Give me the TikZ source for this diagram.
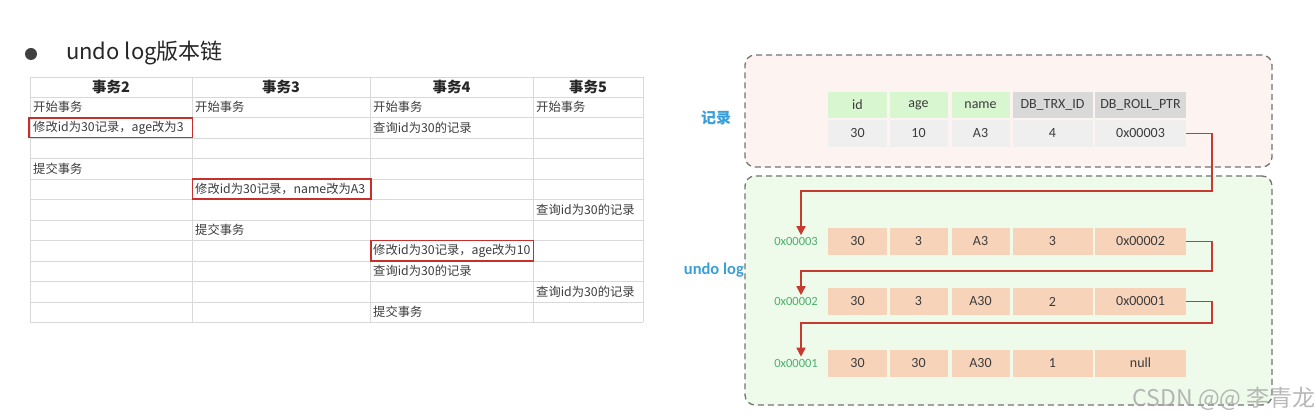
\documentclass[tikz,border=0pt]{standalone}
\usepackage{fontspec}
\setmainfont{Carlito}
\newfontfamily\cjkfont{Noto Sans CJK SC}
\usetikzlibrary{arrows.meta,positioning,calc}

\definecolor{gridgray}{HTML}{D9D9D9}
\definecolor{celltext}{HTML}{3C3C3C}
\definecolor{markred}{HTML}{C62F2B}
\definecolor{chainred}{HTML}{C63A30}
\definecolor{labelblue}{HTML}{3A9FD9}
\definecolor{addrgreen}{HTML}{4DAF6C}
\definecolor{recfill}{HTML}{FDF3F1}
\definecolor{logfill}{HTML}{EEFAEA}
\definecolor{headgreen}{HTML}{D8F6CF}
\definecolor{headgray}{HTML}{D9D9D9}
\definecolor{rowgray}{HTML}{EFEFEF}
\definecolor{peach}{HTML}{F7D3B9}

\begin{document}
\begin{tikzpicture}[
  x=1pt, y=-1pt,
  cell/.style={anchor=west, inner sep=0pt, text=celltext, font=\cjkfont\fontsize{12.3}{14}\selectfont},
  head/.style={inner sep=0pt, text=black!85, font=\cjkfont\bfseries\fontsize{14.5}{16}\selectfont},
  redmark/.style={draw=markred, line width=1.5pt},
  area/.style={draw=black!55, dashed, dash pattern=on 6pt off 4pt, line width=1.3pt, rounded corners=10pt},
  field/.style={inner sep=0pt, minimum height=26pt, text=celltext, font=\fontsize{14}{16}\selectfont},
  addr/.style={anchor=east, inner sep=2pt, text=addrgreen, font=\fontsize{12.5}{14}\selectfont},
  side/.style={text=labelblue, inner sep=0pt, font=\bfseries\fontsize{16.5}{18}\selectfont},
  chain/.style={-{Triangle[length=9pt,width=9pt]}, draw=chainred, line width=1.6pt}
]
\useasboundingbox (0,0) rectangle (1316,419);

% title
\node[circle, fill=black!75, minimum size=12pt, inner sep=0pt] (bullet) at (31,54) {};
\node[anchor=west, inner sep=0pt, text=black!85, font=\cjkfont\fontsize{22}{24}\selectfont] (title) at (66,53) {undo log版本链};

% transaction table
\foreach \yy in {77,97,117.5,138,158.5,179,199.5,220,240.5,261,281.5,302,322.5}
  \draw[gridgray, line width=0.9pt] (30,\yy) -- (643,\yy);
\foreach \xx in {30,192,370,533,643}
  \draw[gridgray, line width=0.9pt] (\xx,77) -- (\xx,322.5);

\node[head] (h2) at (111,87) {事务2};
\node[head] (h3) at (281,87) {事务3};
\node[head] (h4) at (451.5,87) {事务4};
\node[head] (h5) at (588,87) {事务5};

\node[cell] (t2begin) at (33,107.25) {开始事务};
\node[cell] (t3begin) at (195,107.25) {开始事务};
\node[cell] (t4begin) at (373,107.25) {开始事务};
\node[cell] (t5begin) at (536,107.25) {开始事务};
\node[cell] (t2upd) at (33,127.75) {修改id为30记录，age改为3};
\node[cell] (t4sel1) at (373,127.75) {查询id为30的记录};
\node[cell] (t2end) at (33,168.75) {提交事务};
\node[cell] (t3upd) at (195,189.25) {修改id为30记录，name改为A3};
\node[cell] (t5sel1) at (536,209.75) {查询id为30的记录};
\node[cell] (t3end) at (195,230.25) {提交事务};
\node[cell] (t4upd) at (373,250.75) {修改id为30记录，age改为10};
\node[cell] (t4sel2) at (373,271.25) {查询id为30的记录};
\node[cell] (t5sel2) at (536,291.75) {查询id为30的记录};
\node[cell] (t4end) at (373,312.25) {提交事务};

\draw[redmark] (29,118) rectangle (192.5,137.5);
\draw[redmark] (192.5,179) rectangle (371,199);
\draw[redmark] (371,240.5) rectangle (533.5,261);

% record and undo log areas
\node[area, fill=recfill, minimum width=527pt, minimum height=112pt] (rec) at (1008.5,111) {};
\node[area, fill=logfill, minimum width=527pt, minimum height=229pt] (log) at (1008.5,290.5) {};
\node[side, font=\cjkfont\bfseries\fontsize{15}{17}\selectfont] (reclabel) at (716,118) {记录};
\node[side, anchor=east] (loglabel) at (744,270) {undo log};

% current record
\node[field, fill=headgreen, minimum width=59pt] (hid) at (857.5,105) {id};
\node[field, fill=headgreen, minimum width=58pt] (hage) at (918.5,105) {age};
\node[field, fill=headgreen, minimum width=58pt] (hname) at (980.5,105) {name};
\node[field, fill=headgray, minimum width=80pt] (htrx) at (1052.5,105) {DB\_TRX\_ID};
\node[field, fill=headgray, minimum width=91pt] (hptr) at (1140.5,105) {DB\_ROLL\_PTR};
\node[field, fill=rowgray, minimum width=59pt, minimum height=27pt] (rid) at (857.5,133.5) {30};
\node[field, fill=rowgray, minimum width=58pt, minimum height=27pt] (rage) at (918.5,133.5) {10};
\node[field, fill=rowgray, minimum width=58pt, minimum height=27pt] (rname) at (980.5,133.5) {A3};
\node[field, fill=rowgray, minimum width=80pt, minimum height=27pt] (rtrx) at (1052.5,133.5) {4};
\node[field, fill=rowgray, minimum width=91pt, minimum height=27pt] (rptr) at (1140.5,133.5) {0x00003};

% undo log versions
\foreach \i/\yy/\ad/\va/\vb/\vc/\vd/\ve in {
    1/241.5/0x00003/30/3/A3/3/0x00002,
    2/301.5/0x00002/30/3/A30/2/0x00001,
    3/363/0x00001/30/30/A30/1/null} {
  \node[addr] (addr\i) at (820,\yy) {\ad};
  \node[field, fill=peach, minimum width=59pt, minimum height=27pt] (u\i id) at (857.5,\yy) {\va};
  \node[field, fill=peach, minimum width=58pt, minimum height=27pt] (u\i age) at (918.5,\yy) {\vb};
  \node[field, fill=peach, minimum width=58pt, minimum height=27pt] (u\i name) at (980.5,\yy) {\vc};
  \node[field, fill=peach, minimum width=80pt, minimum height=27pt] (u\i trx) at (1052.5,\yy) {\vd};
  \node[field, fill=peach, minimum width=91pt, minimum height=27pt] (u\i ptr) at (1140.5,\yy) {\ve};
}

\coordinate (bend1) at (801,191);
\coordinate (bend2) at (801,271);
\coordinate (bend3) at (801,323);
\draw[chain] (rptr.east) -- ++(26,0) |- (bend1) -- (bend1 |- addr1.north);
\draw[chain] (u1ptr.east) -- ++(26,0) |- (bend2) -- (bend2 |- addr2.north);
\draw[chain] (u2ptr.east) -- ++(26,0) |- (bend3) -- (bend3 |- addr3.north);

% watermark
\node[anchor=east, inner sep=0pt, text=black!35, opacity=0.8, font=\cjkfont\fontsize{23}{25}\selectfont] (mark) at (1316,399) {CSDN @@ 李青龙};
\end{tikzpicture}
\end{document}
